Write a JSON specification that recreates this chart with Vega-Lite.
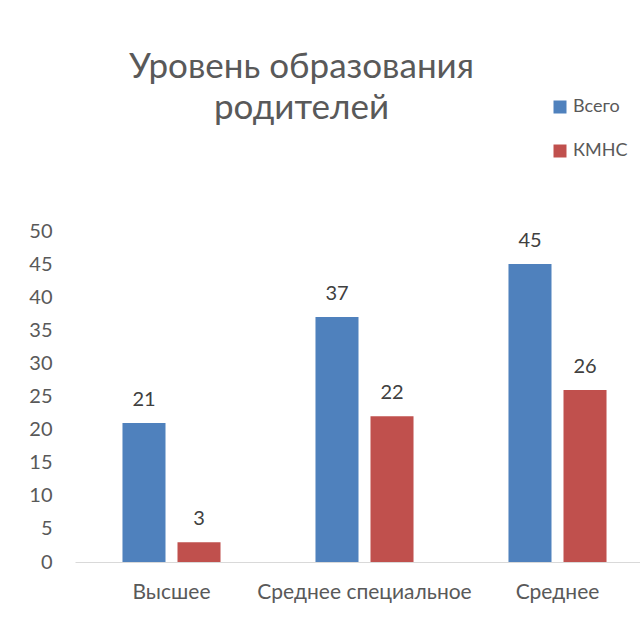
{
  "$schema": "https://vega.github.io/schema/vega-lite/v6.json",
  "autosize": {"type": "none"},
  "padding": {"left": 75, "top": 231, "right": 0, "bottom": 70},
  "width": 565,
  "height": 331,
  "background": "white",
  "config": {"view": {"stroke": null}, "font": "Lato"},
  "title": {
    "text": ["Уровень образования", "родителей"],
    "font": "Lato",
    "fontSize": 35,
    "fontWeight": "normal",
    "color": "#595959",
    "anchor": "middle",
    "frame": "group",
    "dx": -56,
    "offset": 0,
    "dy": 28,
    "lineHeight": 41
  },
  "data": {
    "values": [
      {"level": "Высшее", "group": "Всего", "value": 21},
      {"level": "Высшее", "group": "КМНС", "value": 3},
      {"level": "Среднее специальное", "group": "Всего", "value": 37},
      {"level": "Среднее специальное", "group": "КМНС", "value": 22},
      {"level": "Среднее", "group": "Всего", "value": 45},
      {"level": "Среднее", "group": "КМНС", "value": 26}
    ]
  },
  "encoding": {
    "x": {
      "field": "level",
      "type": "nominal",
      "sort": null,
      "scale": {"range": [0, 579], "paddingInner": 0.492, "paddingOuter": 0.246},
      "axis": {
        "title": null,
        "labelAngle": 0,
        "labelFontSize": 21,
        "labelColor": "#595959",
        "labelPadding": 19,
        "labelLimit": 400,
        "labelOverlap": false,
        "ticks": false,
        "domainColor": "#d9d9d9",
        "domainWidth": 1
      }
    },
    "xOffset": {
      "field": "group",
      "type": "nominal",
      "scale": {"paddingInner": 0.218, "paddingOuter": 0}
    },
    "y": {
      "field": "value",
      "type": "quantitative",
      "scale": {"domain": [0, 50], "nice": false},
      "axis": {
        "title": null,
        "values": [0, 5, 10, 15, 20, 25, 30, 35, 40, 45, 50],
        "grid": false,
        "domain": false,
        "ticks": false,
        "labelFontSize": 20,
        "labelColor": "#595959",
        "labelPadding": 23
      }
    }
  },
  "layer": [
    {
      "mark": {"type": "bar"},
      "encoding": {
        "color": {
          "field": "group",
          "type": "nominal",
          "scale": {"domain": ["Всего", "КМНС"], "range": ["#4f81bd", "#c0504d"]},
          "legend": {
            "title": null,
            "orient": "none",
            "legendX": 476,
            "legendY": -133,
            "symbolType": "square",
            "symbolSize": 169,
            "symbolStrokeWidth": 0,
            "labelFontSize": 18,
            "labelColor": "#595959",
            "rowPadding": 26,
            "labelOffset": 4
          }
        }
      }
    },
    {
      "mark": {"type": "text", "baseline": "bottom", "dy": -13, "fontSize": 20, "color": "#404040"},
      "encoding": {"text": {"field": "value", "type": "quantitative"}}
    }
  ]
}
